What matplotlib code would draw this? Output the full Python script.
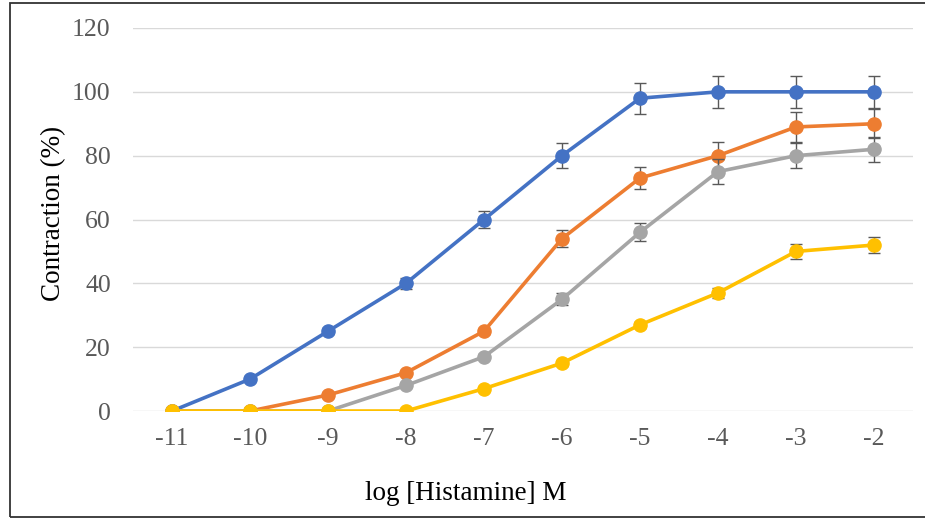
import numpy as np
import matplotlib
matplotlib.use("Agg")
import matplotlib.pyplot as plt
from matplotlib.patches import Rectangle

# log [Histamine] M
dosis = [-11, -10, -9, -8, -7, -6, -5, -4, -3, -2]

# contraccion (%) y error de cada serie
azul = [0, 10, 25, 40, 60, 80, 98, 100, 100, 100]
azul_err = [0, 0.5, 1, 1.7, 2.8, 4, 4.9, 5, 5, 5]
naranja = [0, 0, 5, 12, 25, 54, 73, 80, 89, 90]
naranja_err = [0, 0, 0.5, 0.5, 0.8, 2.7, 3.4, 4.4, 4.7, 4.5]
gris = [0, 0, 0, 8, 17, 35, 56, 75, 80, 82]
gris_err = [0, 0, 0, 0.5, 0.8, 1.9, 2.8, 3.8, 4, 3.9]
amarillo = [0, 0, 0, 0, 7, 15, 27, 37, 50, 52]
amarillo_err = [0, 0, 0, 0, 0.5, 0.8, 1, 1.5, 2.3, 2.5]

series = [
    (azul, azul_err, "#4472C4"),
    (naranja, naranja_err, "#ED7D31"),
    (gris, gris_err, "#A5A5A5"),
    (amarillo, amarillo_err, "#FFC000"),
]

plt.rcParams['font.family'] = ['Liberation Serif', 'DejaVu Serif']
plt.rcParams['axes.unicode_minus'] = False

fig = plt.figure(figsize=(9.25, 5.18), dpi=100)
ax = fig.add_axes([133/925, 1-411/518, (913-133)/925, (411-28)/518])

for k, (y, e, c) in enumerate(series):
    ax.errorbar(dosis, y, yerr=e, color=c, lw=2.6, marker='o', markersize=9.5,
                ecolor='#595959', elinewidth=1.0, capsize=4.5, capthick=1.0,
                zorder=3 + k)

ax.set_xlim(-11.5, -1.5)
ax.set_ylim(0, 120)
ax.set_yticks(range(0, 121, 20))
ax.set_xticks(dosis)
ax.grid(axis='y', color='#D9D9D9', lw=1.0)
ax.set_axisbelow(True)
for s in ax.spines.values():
    s.set_visible(False)
ax.tick_params(length=0, labelsize=18.5, labelcolor='#595959')
ax.tick_params(axis='y', pad=16)
ax.tick_params(axis='x', pad=12)

fig.text(54/925, 1-213/518, 'Contraction (%)', fontsize=19.5, rotation=90,
         ha='center', va='center')
fig.text(466/925, 1-493/518, 'log [Histamine] M', fontsize=19.5,
         ha='center', va='center')

# marco de la figura
fig.patches.append(Rectangle((9.5/925, 1/518), 1.0, 1-4/518,
                             transform=fig.transFigure, fill=False,
                             edgecolor='#333333', lw=1.3, clip_on=False))

fig.savefig('out.png', dpi=100)
